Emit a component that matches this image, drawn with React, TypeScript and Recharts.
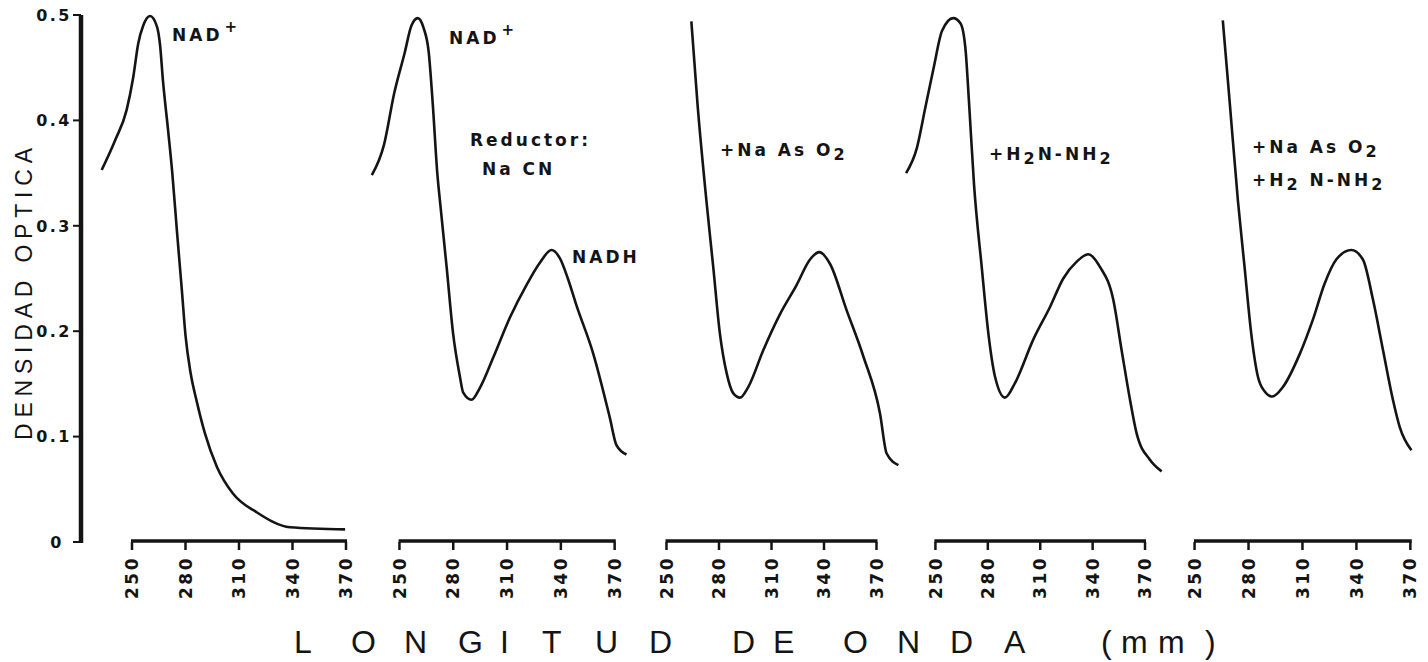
import React from 'react';
import { LineChart, Line, XAxis, YAxis } from 'recharts';

// ---------- data ----------
const xTicks = [250, 280, 310, 340, 370];
const yTicks = [0, 0.1, 0.2, 0.3, 0.4, 0.5];

// Panel 1: NAD+
const p1Wavelength = [233, 240.5, 247, 250.7, 253.5, 256.3, 260.1, 264, 265.7, 267.4, 270.4, 272.6, 275.2, 278, 280, 282.8, 286.5, 290.9, 297.7, 306.6, 320.1, 338.6, 369.5];
const p1Density = [0.353, 0.381, 0.41, 0.441, 0.473, 0.49, 0.499, 0.489, 0.472, 0.437, 0.388, 0.35, 0.295, 0.238, 0.196, 0.161, 0.132, 0.103, 0.071, 0.046, 0.028, 0.014, 0.012];

// Panel 2: Reductor NaCN
const p2Wavelength = [234.6, 241.4, 247.1, 252.9, 256.7, 260.2, 263.4, 266.3, 268.6, 271.1, 272.8, 276.3, 279.9, 283.7, 285.5, 290.2, 294.8, 302.3, 311.6, 320.9, 328.3, 334.8, 339.5, 343.9, 348.8, 358.0, 367.3, 371.0, 376.6];
const p2Density = [0.348, 0.377, 0.426, 0.464, 0.49, 0.497, 0.488, 0.465, 0.415, 0.35, 0.32, 0.261, 0.198, 0.157, 0.142, 0.135, 0.146, 0.175, 0.213, 0.244, 0.265, 0.277, 0.269, 0.25, 0.224, 0.179, 0.118, 0.092, 0.083];

// Panel 3: + NaAsO2
const p3Wavelength = [264.2, 267.7, 272.8, 276.7, 280.5, 284.4, 288.2, 292.0, 296.7, 305.3, 314.8, 324.4, 332.0, 337.3, 343.4, 352.9, 362.5, 372.0, 375.8, 382.5];
const p3Density = [0.494, 0.416, 0.324, 0.261, 0.198, 0.16, 0.141, 0.137, 0.147, 0.182, 0.216, 0.244, 0.268, 0.275, 0.264, 0.22, 0.176, 0.122, 0.084, 0.073];

// Panel 4: + H2N-NH2
const p4Wavelength = [233.2, 239.4, 244.2, 249.0, 253.8, 260.2, 264.4, 267.3, 269.2, 272.1, 276.5, 280.3, 284.1, 289.8, 295.6, 306.0, 315.6, 323.2, 330.9, 337.5, 344.2, 351.8, 356.6, 361.4, 365.2, 372.8, 379.5];
const p4Density = [0.35, 0.374, 0.412, 0.45, 0.485, 0.497, 0.492, 0.466, 0.418, 0.339, 0.261, 0.198, 0.157, 0.137, 0.151, 0.192, 0.223, 0.25, 0.266, 0.273, 0.261, 0.23, 0.182, 0.135, 0.103, 0.078, 0.067];

// Panel 5: + NaAsO2 + H2N-NH2
const p5Wavelength = [265.7, 269.5, 274.1, 277.8, 281.5, 285.2, 288.9, 293.2, 299.1, 308.4, 315.8, 322.3, 328.8, 337.2, 343.6, 349.2, 354.8, 360.3, 364.1, 370.6];
const p5Density = [0.495, 0.418, 0.324, 0.261, 0.198, 0.157, 0.143, 0.138, 0.147, 0.178, 0.211, 0.245, 0.268, 0.277, 0.268, 0.23, 0.182, 0.135, 0.109, 0.087];

// ---------- layout ----------
const W = 1428;
const H = 662;
const PLOT_TOP = 15;
const PLOT_BOTTOM = 542;
const Y_AXIS_X = 81;
const X_AXIS_H = 60;
const Y_MAX = 0.5;
const INK = '#141414';
const BOLD_FONT = "'DejaVu Sans', 'Liberation Sans', sans-serif";
const REG_FONT = "'Liberation Sans', Arial, sans-serif";

const panels = [
  { key: 'p1', wl: p1Wavelength, d: p1Density, p250: 132, p370: 346, lo: 228, hi: 386, showY: true },
  { key: 'p2', wl: p2Wavelength, d: p2Density, p250: 399.6, p370: 614.8, lo: 228, hi: 386, showY: false },
  { key: 'p3', wl: p3Wavelength, d: p3Density, p250: 666.5, p370: 876.5, lo: 228, hi: 386, showY: false },
  { key: 'p4', wl: p4Wavelength, d: p4Density, p250: 935.4, p370: 1145, lo: 228, hi: 386, showY: false },
  { key: 'p5', wl: p5Wavelength, d: p5Density, p250: 1195, p370: 1410.8, lo: 228, hi: 378, showY: false },
];

const XTick = (props: any) => {
  const { x, y, payload } = props;
  return (
    <g transform={`translate(${x},${y})`}>
      <text
        x={-4}
        y={0}
        dy="0.36em"
        transform="rotate(-90)"
        textAnchor="end"
        fontFamily={BOLD_FONT}
        fontWeight="bold"
        fontSize={17}
        letterSpacing={2.5}
        fill={INK}
      >
        {payload.value}
      </text>
    </g>
  );
};

const YTick = (props: any) => {
  const { y, payload } = props;
  const v = payload.value as number;
  const label = v === 0 ? '0' : v.toFixed(1);
  const xEnd = Y_AXIS_X - 9;
  return (
    <text
      x={v === 0 ? xEnd - 8 : xEnd}
      y={y}
      dy="0.36em"
      textAnchor="end"
      fontFamily={BOLD_FONT}
      fontWeight="bold"
      fontSize={16}
      letterSpacing={2.5}
      fill={INK}
    >
      {label}
    </text>
  );
};

function Panel({ cfg }: { cfg: any }) {
  const s = (cfg.p370 - cfg.p250) / 120;
  const lo = cfg.showY ? 250 - (cfg.p250 - Y_AXIS_X) / s : cfg.lo;
  const plotLeft = cfg.p250 - (250 - lo) * s;
  const plotWidth = (cfg.hi - lo) * s;
  const yW = cfg.showY ? Y_AXIS_X : 0;
  const left = cfg.showY ? 0 : plotLeft;
  const width = yW + plotWidth;
  const data = cfg.wl.map((w: number, i: number) => ({ wl: w, d: cfg.d[i] }));
  return (
    <div style={{ position: 'absolute', left, top: 0 }}>
      <LineChart
        width={width}
        height={H}
        data={data}
        margin={{ top: PLOT_TOP, right: 0, left: 0, bottom: H - PLOT_BOTTOM - X_AXIS_H }}
      >
        <XAxis
          dataKey="wl"
          type="number"
          domain={[lo, cfg.hi]}
          ticks={xTicks}
          interval={0}
          height={X_AXIS_H}
          axisLine={false}
          tickLine={{ stroke: INK, strokeWidth: 2.5 }}
          tickSize={8}
          tickMargin={2}
          tick={<XTick />}
        />
        {cfg.showY ? (
          <YAxis
            type="number"
            domain={[0, Y_MAX]}
            ticks={yTicks}
            interval={0}
            width={Y_AXIS_X}
            axisLine={false}
            tickLine={false}
            tick={<YTick />}
          />
        ) : (
          <YAxis hide type="number" domain={[0, Y_MAX]} width={0} />
        )}
        <Line
          dataKey="d"
          type="monotone"
          stroke={INK}
          strokeWidth={2.6}
          dot={false}
          activeDot={false}
          isAnimationActive={false}
        />
      </LineChart>
    </div>
  );
}

const annoStyle = {
  fontFamily: BOLD_FONT,
  fontWeight: 'bold' as const,
  fontSize: 17,
  letterSpacing: 3,
  fill: INK,
};

export default function App() {
  const titleChars = 'LONGITUD DE ONDA (mm)';
  const titleX = [294, 351, 404, 458, 500, 542, 595, 649, 700, 732, 773, 810, 843, 897, 950, 1004, 1060, 1101, 1121, 1158, 1205];
  const yPix = (v: number) => PLOT_BOTTOM - (v / Y_MAX) * (PLOT_BOTTOM - PLOT_TOP);
  return (
    <div style={{ position: 'absolute', left: 0, top: 0, width: W, height: H, overflow: 'hidden', background: '#fff' }}>
      {panels.map((p) => (
        <Panel key={p.key} cfg={p} />
      ))}
      <svg width={W} height={H} style={{ position: 'absolute', left: 0, top: 0, pointerEvents: 'none' }}>
        {/* axis frame: y axis line + ticks, x axis baselines (250..370) */}
        <line x1={Y_AXIS_X} y1={PLOT_TOP} x2={Y_AXIS_X} y2={PLOT_BOTTOM + 1} stroke={INK} strokeWidth={4.5} />
        {yTicks.map((v) => (
          <line key={v} x1={Y_AXIS_X - 8} y1={yPix(v)} x2={Y_AXIS_X} y2={yPix(v)} stroke={INK} strokeWidth={2} />
        ))}
        {panels.map((p) => (
          <line key={p.key} x1={p.p250 - 1} y1={PLOT_BOTTOM - 1} x2={p.p370 + 1} y2={PLOT_BOTTOM - 1} stroke={INK} strokeWidth={3.5} />
        ))}

        {/* axis titles */}
        <text
          transform="translate(32,294) rotate(-90)"
          textAnchor="middle"
          fontFamily={REG_FONT}
          fontSize={23}
          textLength={292}
          lengthAdjust="spacing"
          fill={INK}
        >
          DENSIDAD OPTICA
        </text>
        <text x={titleX.join(' ')} y={653} fontFamily={REG_FONT} fontSize={32} fill={INK}>
          {titleChars}
        </text>

        {/* annotations */}
        <text x={172} y={41} {...annoStyle}>
          NAD<tspan dx={2} dy={-9} fontSize={15}>+</tspan>
        </text>
        <text x={449} y={44} {...annoStyle}>
          NAD<tspan dx={2} dy={-9} fontSize={15}>+</tspan>
        </text>
        <text x={470} y={146} {...annoStyle}>Reductor:</text>
        <text x={482} y={175} {...annoStyle}>Na CN</text>
        <text x={572} y={263} {...annoStyle}>NADH</text>
        <text x={720} y={156} {...annoStyle}>
          +Na As O<tspan dy={4} fontSize={16}>2</tspan>
        </text>
        <text x={989} y={160} {...annoStyle}>
          +H<tspan dy={4} fontSize={16}>2</tspan>
          <tspan dy={-4}>N-NH</tspan>
          <tspan dy={4} fontSize={16}>2</tspan>
        </text>
        <text x={1252} y={153} {...annoStyle}>
          +Na As O<tspan dy={4} fontSize={16}>2</tspan>
        </text>
        <text x={1252} y={186} {...annoStyle}>
          +H<tspan dy={4} fontSize={16}>2</tspan>
          <tspan dy={-4}> N-NH</tspan>
          <tspan dy={4} fontSize={16}>2</tspan>
        </text>
      </svg>
    </div>
  );
}
